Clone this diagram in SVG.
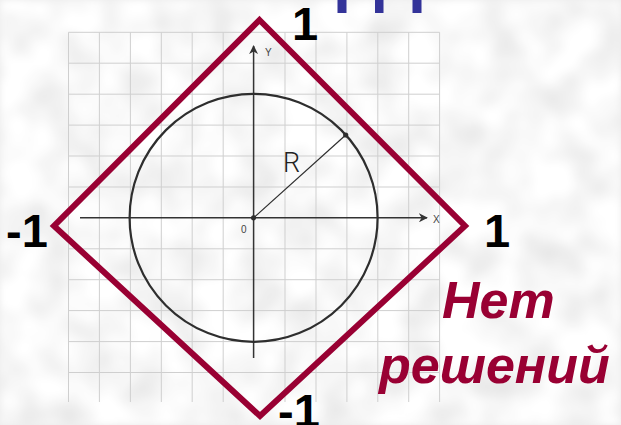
<svg xmlns="http://www.w3.org/2000/svg" width="621" height="425" viewBox="0 0 621 425">
<defs>
<filter id="tex" x="0" y="0" width="100%" height="100%" filterUnits="userSpaceOnUse">
<feTurbulence type="fractalNoise" baseFrequency="0.025" numOctaves="2" seed="7"/>
<feColorMatrix type="matrix" values="0.4 0 0 0 0.74  0.4 0 0 0 0.74  0.4 0 0 0 0.74  0 0 0 0 1"/>
<feGaussianBlur stdDeviation="3"/>
</filter>
<marker id="arr" viewBox="0 0 10 10" refX="9" refY="5" markerWidth="9" markerHeight="9" markerUnits="userSpaceOnUse" orient="auto">
<path d="M0,0 L10,5 L0,10 L3,5 Z" fill="#333"/>
</marker>
</defs>
<style>
.grid line{stroke:#cfcfcf;stroke-width:1}
.axis{stroke:#333;stroke-width:1.5;fill:none}
.small{font-family:"Liberation Sans",Arial,sans-serif;font-size:10px;fill:#444}
.num{font-family:"Liberation Sans",Arial,sans-serif;font-weight:bold;font-size:47px;fill:#000}
.ans{font-family:"Liberation Sans",Arial,sans-serif;font-weight:bold;font-style:italic;font-size:52px;fill:#990033}
</style>
<rect x="0" y="0" width="621" height="425" fill="#ececec"/>
<rect x="0" y="0" width="621" height="425" filter="url(#tex)"/>
<g id="title-fragment" fill="#333399">
<rect x="337.5" y="0" width="9" height="13"/>
<rect x="375" y="0" width="8.5" height="13"/>
<rect x="412.5" y="0" width="9" height="13"/>
</g>
<g id="grid" class="grid">
<line x1="68.5" y1="32.3" x2="68.5" y2="402"/>
<line x1="99.4" y1="32.3" x2="99.4" y2="402"/>
<line x1="130.4" y1="32.3" x2="130.4" y2="402"/>
<line x1="161.3" y1="32.3" x2="161.3" y2="402"/>
<line x1="192.2" y1="32.3" x2="192.2" y2="402"/>
<line x1="223.2" y1="32.3" x2="223.2" y2="402"/>
<line x1="285" y1="32.3" x2="285" y2="402"/>
<line x1="316" y1="32.3" x2="316" y2="402"/>
<line x1="346.9" y1="32.3" x2="346.9" y2="402"/>
<line x1="377.8" y1="32.3" x2="377.8" y2="402"/>
<line x1="408.7" y1="32.3" x2="408.7" y2="402"/>
<line x1="439.6" y1="32.3" x2="439.6" y2="402"/>
<line x1="68.5" y1="32.3" x2="439.6" y2="32.3"/>
<line x1="68.5" y1="63.2" x2="439.6" y2="63.2"/>
<line x1="68.5" y1="94.2" x2="439.6" y2="94.2"/>
<line x1="68.5" y1="125.1" x2="439.6" y2="125.1"/>
<line x1="68.5" y1="156" x2="439.6" y2="156"/>
<line x1="68.5" y1="187" x2="439.6" y2="187"/>
<line x1="68.5" y1="248.8" x2="439.6" y2="248.8"/>
<line x1="68.5" y1="279.7" x2="439.6" y2="279.7"/>
<line x1="68.5" y1="310.6" x2="439.6" y2="310.6"/>
<line x1="68.5" y1="341.6" x2="439.6" y2="341.6"/>
<line x1="68.5" y1="372.5" x2="439.6" y2="372.5"/>
</g>
<g id="axes">
<line class="axis" x1="80" y1="217.8" x2="427" y2="217.8" marker-end="url(#arr)"/>
<line class="axis" x1="253.6" y1="358" x2="253.6" y2="46" marker-end="url(#arr)"/>
<text class="small" x="433" y="223">X</text>
<text class="small" x="265" y="56">Y</text>
<text class="small" x="241" y="233">0</text>
</g>
<g id="circle">
<circle cx="253.6" cy="217.8" r="124" fill="none" stroke="#2e2e2e" stroke-width="2.2"/>
<line x1="253.6" y1="217.8" x2="345.7" y2="135" stroke="#2e2e2e" stroke-width="1.2"/>
<circle cx="253.6" cy="217.8" r="2.6" fill="#2e2e2e"/>
<circle cx="345.7" cy="135" r="2.6" fill="#2e2e2e"/>
<text x="283" y="172" font-family="Roboto, 'Liberation Sans', sans-serif" font-weight="300" font-size="27" fill="#222">R</text>
</g>
<g id="diamond">
<polygon points="259.5,20 465,226 260,416 54,226" fill="none" stroke="#990033" stroke-width="6"/>
</g>
<g id="labels">
<text class="num" x="292" y="40">1</text>
<text class="num" x="6" y="247">-1</text>
<text class="num" x="484" y="247">1</text>
<text class="num" x="278" y="427">-1</text>
<text class="ans" x="442" y="318">Нет</text>
<text class="ans" x="379" y="383" font-size="54">решений</text>
</g>
</svg>
